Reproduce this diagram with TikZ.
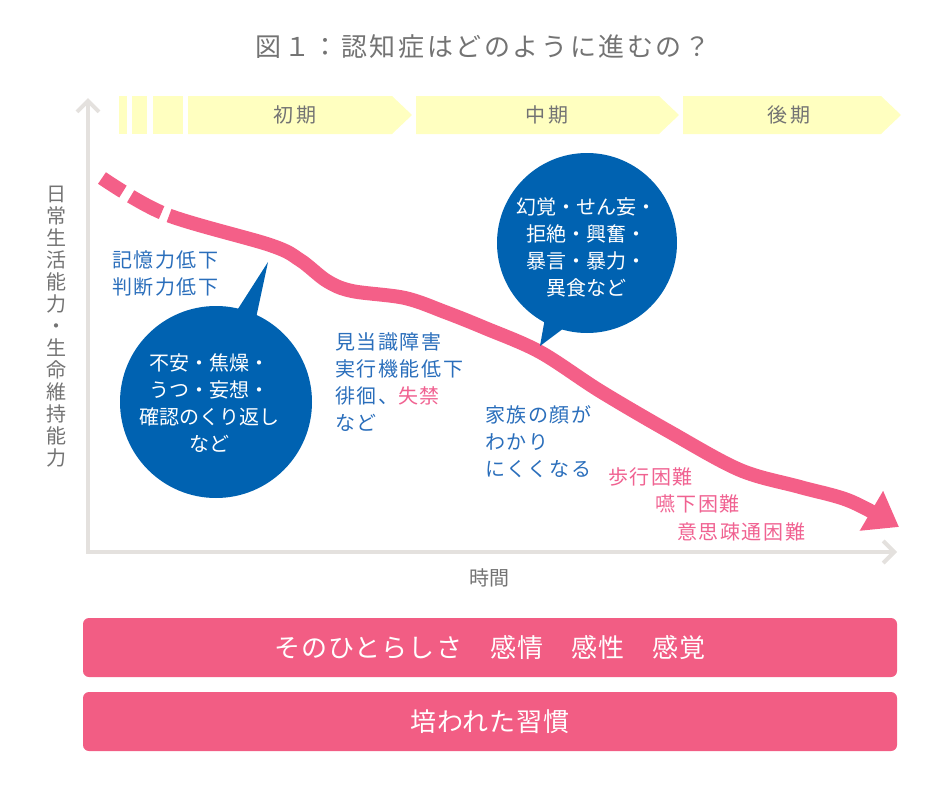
\documentclass[tikz,border=0pt]{standalone}
\usepackage{fontspec}
\setmainfont{Noto Sans CJK JP}
\usetikzlibrary{arrows.meta}

\definecolor{bannerYellow}{HTML}{FFFFC0}
\definecolor{textGray}{HTML}{737373}
\definecolor{axisGray}{HTML}{E4E1DE}
\definecolor{curvePink}{HTML}{F45F88}
\definecolor{barPink}{HTML}{F25D84}
\definecolor{bubbleBlue}{HTML}{0062B1}
\definecolor{textBlue}{HTML}{2A6EBB}
\definecolor{textPink}{HTML}{F06291}

\begin{document}
\begin{tikzpicture}[x=1pt,y=-1pt,
    phaselabel/.style={text=textGray, inner sep=0pt, font=\fontsize{20}{24}\selectfont\addfontfeatures{LetterSpace=15}},
    note/.style={text=textBlue, align=left, anchor=west, inner sep=0pt, font=\fontsize{20}{27}\selectfont\addfontfeatures{LetterSpace=8}},
    pinknote/.style={note, text=textPink},
    bubble/.style={fill=bubbleBlue},
    bubbletext/.style={text=white, align=center, inner sep=0pt, font=\fontsize{20}{27}\selectfont},
    barbox/.style={fill=barPink, rounded corners=6pt, minimum width=814pt, minimum height=59pt, text=white, font=\fontsize{26}{30}\selectfont\addfontfeatures{LetterSpace=4}}]
    \useasboundingbox (0,0) rectangle (946,790);

    % Title
    \node[text=textGray, font=\fontsize{26}{30}\selectfont\addfontfeatures{LetterSpace=10}] (title) at (483,47) {図１：認知症はどのように進むの？};

    % Phase banner across the top
    \fill[bannerYellow] (119,96) rectangle (127,134);
    \fill[bannerYellow] (132,96) rectangle (147,134);
    \fill[bannerYellow] (153,96) rectangle (183,134);
    \fill[bannerYellow] (188,96) -- (392,96) -- (412,115) -- (392,134) -- (188,134) -- cycle;
    \fill[bannerYellow] (416,96) -- (659,96) -- (679,115) -- (659,134) -- (416,134) -- cycle;
    \fill[bannerYellow] (683,96) -- (881,96) -- (901,115) -- (881,134) -- (683,134) -- cycle;
    \node[phaselabel] (early) at (295,115) {初期};
    \node[phaselabel] (middle) at (547,115) {中期};
    \node[phaselabel] (late) at (789,115) {後期};

    % Axes
    \draw[axisGray, line width=4pt, {Straight Barb[length=11pt,width=22pt]}-{Straight Barb[length=11pt,width=22pt]}]
        (88,98) -- (88,552) -- (897,552);
    \node[text=textGray, align=center, inner sep=0pt, font=\fontsize{20}{22}\selectfont] (ylabel) at (56,327)
        {日\\常\\生\\活\\能\\力\\・\\生\\命\\維\\持\\能\\力};
    \node[text=textGray, inner sep=0pt, font=\fontsize{20}{24}\selectfont] (xlabel) at (489,578) {時間};

    % Decline curve, dashed at its start
    \draw[curvePink, line width=14pt, dash pattern=on 25pt off 9pt on 35pt off 8pt on 3000pt off 1pt,
        -{Triangle[length=32pt,width=44pt]}]
        plot[smooth, tension=0.55] coordinates {(102,178) (165,214) (270,245) (300,260) (327,281) (352,291)
        (405,298) (445,312) (485,328) (540,352) (600,391) (670,432) (740,470) (800,487) (850,501) (899,527)};

    % Speech bubbles
    \fill[bubble] (216,402) circle (96);
    \fill[bubble] (236,312) -- (268,262) -- (256,318) -- cycle;
    \node[bubbletext] (anxiety) at (209,403) {不安・焦燥・\\うつ・妄想・\\確認のくり返し\\など};
    \fill[bubble] (587,243) circle (90);
    \fill[bubble] (545,318) -- (540,346) -- (564,328) -- cycle;
    \node[bubbletext] (halluc) at (586,247) {幻覚・せん妄・\\拒絶・興奮・\\暴言・暴力・\\異食など};

    % Symptoms along the curve
    \node[note] (memory) at (112,273) {記憶力低下\\判断力低下};
    \node[note] (orient) at (335,382) {見当識障害\\実行機能低下\\徘徊、\textcolor{textPink}{失禁}\\など};
    \node[note] (family) at (485,442) {家族の顔が\\わかり\\にくくなる};
    \node[pinknote] (walk) at (608,477) {歩行困難};
    \node[pinknote] (swallow) at (655,504) {嚥下困難};
    \node[pinknote] (talk) at (677,532) {意思疎通困難};

    % Bars at the bottom
    \node[barbox] (self) at (490,647.5) {そのひとらしさ　感情　感性　感覚};
    \node[barbox] (habit) at (490,721.5) {培われた習慣};
\end{tikzpicture}
\end{document}
